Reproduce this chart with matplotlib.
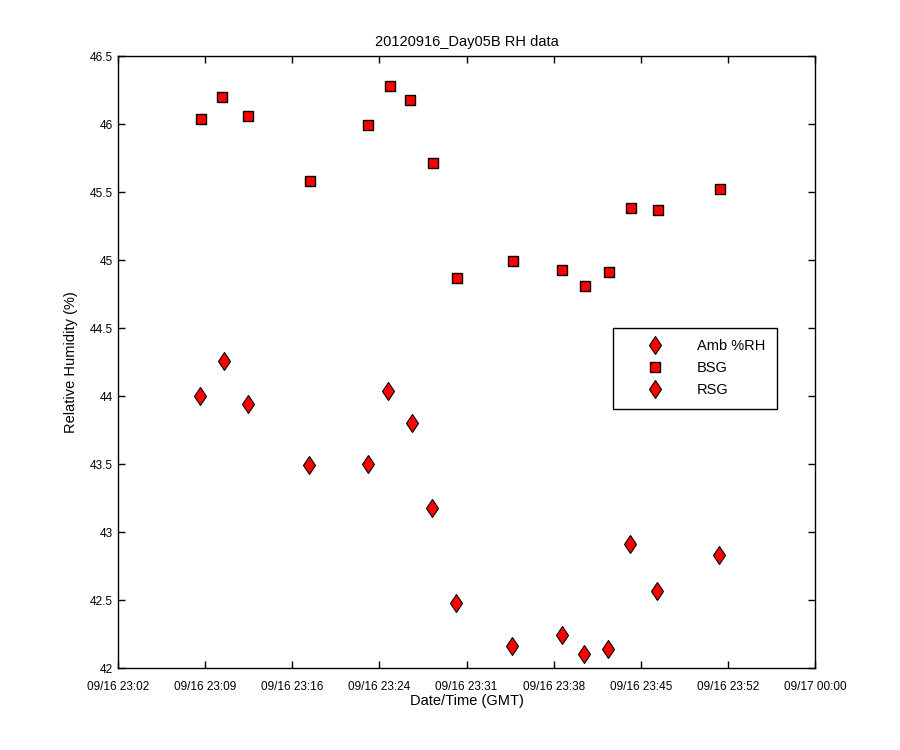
import numpy as np
import pandas as pd
import matplotlib
matplotlib.use("Agg")
import matplotlib.pyplot as plt
import matplotlib.dates as mdates

plt.rcParams['font.family'] = ['Liberation Sans', 'DejaVu Sans']

# minutes after 09/16 23:00 GMT
bsg_min = [9.35, 11.08, 13.23, 18.34, 23.13, 24.94, 26.59, 28.49, 30.47, 35.09,
           39.13, 41.03, 43.01, 44.83, 47.05, 52.17]
bsg_rh = [46.04, 46.20, 46.06, 45.58, 45.99, 46.28, 46.18, 45.71, 44.87, 44.99,
          44.93, 44.81, 44.91, 45.38, 45.37, 45.52]

rsg_min = [9.27, 11.25, 13.23, 18.26, 23.13, 24.78, 26.76, 28.41, 30.39, 35.01,
           39.13, 40.94, 42.92, 44.74, 46.97, 52.09]
rsg_rh = [44.00, 44.26, 43.94, 43.49, 43.50, 44.04, 43.80, 43.18, 42.48, 42.16,
          42.24, 42.10, 42.14, 42.91, 42.57, 42.83]

# ambient sensor gave no usable values in range
amb_min = []
amb_rh = []

t0 = pd.Timestamp('2012-09-16 23:00:00')
def to_time(mins):
    return [t0 + pd.Timedelta(minutes=m) for m in mins]

fig = plt.figure(figsize=(9, 7.5), dpi=100)
ax = fig.add_axes([0.1311, 0.1093, 0.7745, 0.816])

ax.plot(to_time(amb_min), amb_rh, linestyle='none', marker='d', markersize=9.5,
        markerfacecolor='red', markeredgecolor='black', markeredgewidth=0.8, label='Amb %RH')
ax.plot(to_time(bsg_min), bsg_rh, linestyle='none', marker='s', markersize=6.5,
        markerfacecolor='red', markeredgecolor='black', markeredgewidth=1.0, label='BSG')
ax.plot(to_time(rsg_min), rsg_rh, linestyle='none', marker='d', markersize=9.5,
        markerfacecolor='red', markeredgecolor='black', markeredgewidth=0.8, label='RSG')

xstart = t0 + pd.Timedelta(minutes=2.5)
xend = pd.Timestamp('2012-09-17 00:00:00')
ax.set_xlim(xstart, xend)
ax.set_ylim(42, 46.5)

xt = pd.date_range(xstart, xend, periods=9)
ax.set_xticks(list(xt))
ax.xaxis.set_major_formatter(mdates.DateFormatter('%m/%d %H:%M'))
ax.set_yticks(np.arange(42, 46.51, 0.5))
ax.set_yticklabels(['42', '42.5', '43', '43.5', '44', '44.5', '45', '45.5', '46', '46.5'])

ax.tick_params(direction='in', top=True, right=True, length=5, width=1, labelsize=8.5)
ax.tick_params(axis='x', pad=9)
for s in ax.spines.values():
    s.set_linewidth(1)

ax.set_title('20120916_Day05B RH data', fontsize=10.5, pad=7)
ax.set_xlabel('Date/Time (GMT)', fontsize=10.5, labelpad=1)
ax.set_ylabel('Relative Humidity (%)', fontsize=10.5, labelpad=9)

leg = ax.legend(loc='upper left', bbox_to_anchor=(0.710, 0.556), fancybox=False,
                edgecolor='black', fontsize=10.5, handletextpad=0.75, borderpad=0.8,
                labelspacing=0.55, handlelength=4.2, borderaxespad=0, framealpha=1)
leg.get_frame().set_linewidth(1)

fig.savefig('out.png', dpi=100)
